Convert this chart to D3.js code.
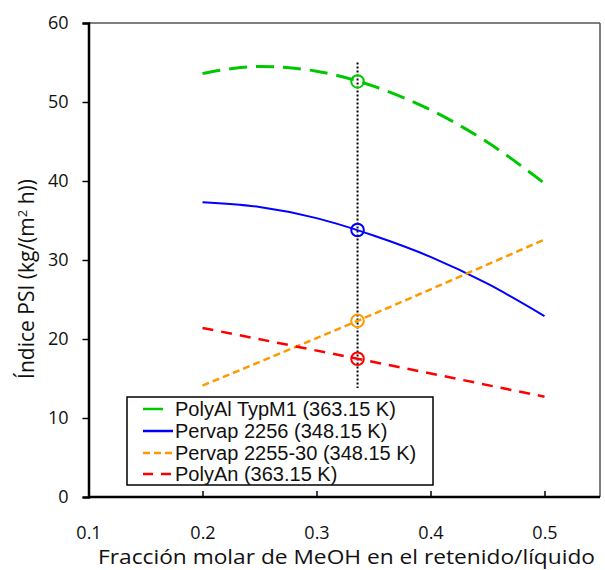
<!DOCTYPE html>
<html><head><meta charset="utf-8">
<script src="https://cdn.jsdelivr.net/npm/d3@7"></script>
<style>body{margin:0;background:#fff}</style>
</head><body>
<svg id="c" width="605" height="570"></svg>
<script>
const xTicks = [0.1, 0.2, 0.3, 0.4, 0.5];
const yTicks = [0, 10, 20, 30, 40, 50, 60];
const seriesNames = ["PolyAl TypM1 (363.15 K)", "Pervap 2256 (348.15 K)", "Pervap 2255-30 (348.15 K)", "PolyAn (363.15 K)"];
const polyAlX = [0.2, 0.25, 0.3, 0.35, 0.4, 0.45, 0.5];
const polyAlY = [53.6, 54.5, 53.9, 52.0, 49.0, 44.9, 39.7];
const pervap2256X = [0.2, 0.25, 0.3, 0.35, 0.4, 0.45, 0.5];
const pervap2256Y = [37.3, 36.7, 35.3, 33.1, 30.4, 27.0, 22.9];
const pervap2255X = [0.2, 0.336, 0.5];
const pervap2255Y = [14.1, 22.3, 32.6];
const polyAnX = [0.2, 0.336, 0.5];
const polyAnY = [21.4, 17.5, 12.7];
const markerX = 0.336;
const markerY = [52.6, 33.8, 22.3, 17.5];
const dottedY = [13.8, 55.0];

const svg = d3.select("#c");
const L = 88.5, R = 600, T = 23, B = 497;
const x = d3.scaleLinear().domain([0.1, 0.5]).range([L, 544.5]);
const y = d3.scaleLinear().domain([0, 60]).range([B, T]);
const tickFont = "'Open Sans', 'Noto Sans', sans-serif";

// frame top/right
svg.append("line").attr("x1", L).attr("x2", R).attr("y1", T).attr("y2", T).attr("stroke", "#555").attr("stroke-width", 1.5);
svg.append("line").attr("x1", R).attr("x2", R).attr("y1", T).attr("y2", B).attr("stroke", "#555").attr("stroke-width", 1.5);

// y axis
const yAxis = d3.axisLeft(y).tickValues(yTicks).tickSize(6).tickPadding(14).tickFormat(d3.format("d"));
const gy = svg.append("g").attr("transform", `translate(${L},0)`).call(yAxis);
gy.select(".domain").attr("stroke", "#000").attr("stroke-width", 2.5);
gy.selectAll(".tick line").attr("stroke", "#000").attr("stroke-width", 1.5);
gy.selectAll("text").attr("font-family", tickFont).attr("font-size", 18).attr("fill", "#111");

// x axis (ticks inward, labels detached)
const xAxis = d3.axisBottom(x).tickValues(xTicks).tickSize(-6).tickPadding(29).tickFormat(d3.format(".1f"));
const gx = svg.append("g").attr("transform", `translate(0,${B})`).call(xAxis);
gx.select(".domain").attr("d", `M${L},0H${R}`).attr("stroke", "#000").attr("stroke-width", 2.5);
gx.selectAll(".tick line").attr("stroke", "#000").attr("stroke-width", 1.5);
gx.selectAll("text").attr("font-family", tickFont).attr("font-size", 18).attr("fill", "#111");

// titles
svg.append("text").attr("x", 98).attr("y", 564).attr("font-family", tickFont).attr("font-size", 20)
  .attr("textLength", 497).attr("lengthAdjust", "spacingAndGlyphs").attr("fill", "#111")
  .text("Fracción molar de MeOH en el retenido/líquido");
const yt = svg.append("text").attr("transform", "translate(34,279) rotate(-90)").attr("text-anchor", "middle")
  .attr("font-family", tickFont).attr("font-size", 21).attr("fill", "#111");
yt.append("tspan").text("Índice PSI (kg/(m");
yt.append("tspan").attr("font-size", 13).attr("dy", -7).text("2");
yt.append("tspan").attr("dy", 7).text(" h))");

// dotted vertical
svg.append("line").attr("x1", x(markerX)).attr("x2", x(markerX)).attr("y1", y(dottedY[1])).attr("y2", y(dottedY[0]))
  .attr("stroke", "#000").attr("stroke-width", 2).attr("stroke-dasharray", "2,2");

const line = d3.line().x(d => x(d[0])).y(d => y(d[1])).curve(d3.curveMonotoneX);
const styles = [
  {c: "#00c800", w: 3, dash: "18,9"},
  {c: "#0000ff", w: 2, dash: null},
  {c: "#ff9900", w: 2.5, dash: "7,4"},
  {c: "#ff0000", w: 2.5, dash: "11,8"}
];
const data = [
  d3.zip(polyAlX, polyAlY),
  d3.zip(pervap2256X, pervap2256Y),
  d3.zip(pervap2255X, pervap2255Y),
  d3.zip(polyAnX, polyAnY)
];
data.forEach((d, i) => {
  svg.append("path").attr("d", line(d)).attr("fill", "none").attr("stroke", styles[i].c)
    .attr("stroke-width", styles[i].w).attr("stroke-dasharray", styles[i].dash);
});
markerY.forEach((v, i) => {
  svg.append("circle").attr("cx", x(markerX)).attr("cy", y(v)).attr("r", 6.3)
    .attr("fill", "none").attr("stroke", styles[i].c).attr("stroke-width", 2);
});

// legend
const lg = svg.append("g");
lg.append("rect").attr("x", 127).attr("y", 397).attr("width", 306).attr("height", 88)
  .attr("fill", "#fff").attr("stroke", "#000").attr("stroke-width", 1.5);
const rowY = [409, 431, 453, 474];
const sampleEnd = [163, 173, 173, 173];
seriesNames.forEach((n, i) => {
  lg.append("line").attr("x1", 143).attr("x2", sampleEnd[i]).attr("y1", rowY[i]).attr("y2", rowY[i])
    .attr("stroke", styles[i].c).attr("stroke-width", 2.5)
    .attr("stroke-dasharray", i === 2 ? "7,4" : i === 3 ? "10,8" : null);
  lg.append("text").attr("x", 175).attr("y", rowY[i]).attr("dy", "0.35em")
    .attr("font-family", "'Liberation Sans', Arial, sans-serif").attr("font-size", 20).attr("fill", "#111").text(n);
});
</script>
</body></html>
